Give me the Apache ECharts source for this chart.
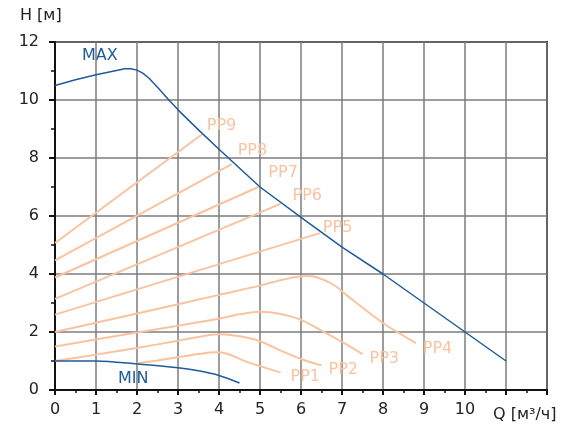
<!DOCTYPE html>
<html><head><meta charset="utf-8">
<script src="https://cdn.jsdelivr.net/npm/echarts@6/dist/echarts.min.js"></script>
<style>html,body{margin:0;padding:0;background:#fff}#c{width:583px;height:428px}</style>
</head><body><div id="c"></div>
<script>
const xTicks = [0,1,2,3,4,5,6,7,8,9,10];
const yTicks = [0,2,4,6,8,10,12];
const MAX = [[0,10.5],[0.5,10.7],[1,10.87],[1.5,11.02],[1.7,11.08],[1.85,11.08],[2.0,11.03],[2.15,10.92],[2.3,10.74],[2.5,10.44],[2.75,10.04],[3,9.66],[3.5,8.97],[4,8.3],[5,7.0],[6,5.95],[7,4.93],[8,4.0],[11,1.0]];
const MIN = [[0,1.0],[1,1.0],[2,0.9],[3,0.77],[3.5,0.66],[4,0.5],[4.5,0.24]];
const PP9 = [[0,5.07],[3.58,8.81]];
const PP8 = [[0,4.47],[4.31,7.79]];
const PP7 = [[0,3.88],[4.96,7.0]];
const PP6 = [[0,3.14],[5.5,6.42]];
const PP5 = [[0,2.6],[6.46,5.41]];
const PP4 = [[0,2.0],[2,2.64],[4,3.28],[5,3.6],[5.6,3.82],[6.1,3.93],[6.4,3.88],[6.8,3.62],[7.2,3.17],[8,2.31],[8.8,1.62]];
const PP3 = [[0,1.5],[2,1.98],[4,2.46],[4.5,2.61],[5,2.7],[5.5,2.62],[6,2.42],[6.5,2.05],[7,1.66],[7.5,1.24]];
const PP2 = [[0,1.0],[1,1.22],[2,1.45],[3,1.7],[3.5,1.83],[4,1.92],[4.5,1.85],[5,1.68],[5.5,1.36],[6,1.07],[6.5,0.85]];
const PP1 = [[2,0.92],[2.5,1.02],[3,1.13],[3.5,1.24],[3.9,1.3],[4.2,1.25],[4.7,0.96],[5.1,0.78],[5.5,0.6]];
const ppNames = ['PP1','PP2','PP3','PP4','PP5','PP6','PP7','PP8','PP9'];
const ppData = [PP1,PP2,PP3,PP4,PP5,PP6,PP7,PP8,PP9];
const ppOffsets = [[10,4],[7,4],[7,5],[7,6],[3,-5],[12,-8],[10,-14],[6,-13],[5,-9]];

const FONT = 'DejaVu Sans';
const ORANGE = '#f9c3a0';
const BLUE = '#1f5b9c';
const chart = echarts.init(document.getElementById('c'), null, {renderer:'canvas'});
const series = [];
series.push({type:'line', data:MAX, showSymbol:false, smooth:false, lineStyle:{color:BLUE,width:1.5}, z:5, animation:false});
series.push({type:'line', data:MIN, showSymbol:false, smooth:0.3, lineStyle:{color:BLUE,width:1.5}, z:5, animation:false});
ppData.forEach((d,i)=>{
  series.push({type:'line', name:ppNames[i], data:d, showSymbol:false, smooth:0.3, lineStyle:{color:ORANGE,width:2}, z:3, animation:false,
    endLabel:{show:true, formatter:ppNames[i], color:ORANGE, fontFamily:FONT, fontSize:16, distance:0, offset:ppOffsets[i]}});
});
chart.setOption({
  animation:false,
  grid:{left:55,right:36,top:42,bottom:38,show:true,borderColor:'#222',borderWidth:2,backgroundColor:'transparent'},
  xAxis:{type:'value',min:0,max:12,interval:1,
    axisLine:{show:true,onZero:false,lineStyle:{color:'#111',width:2}},
    axisTick:{show:true,length:5,lineStyle:{color:'#111',width:2}},
    minorTick:{show:true,splitNumber:2,length:3,lineStyle:{color:'#111',width:1.5}},
    splitLine:{show:true,lineStyle:{color:'#7d7d7d',width:1.5}},
    axisLabel:{margin:12,color:'#222',fontFamily:FONT,fontSize:16,formatter:v=>xTicks.includes(v)?String(v):''}},
  yAxis:{type:'value',min:0,max:12,interval:2,
    axisLine:{show:true,onZero:false,lineStyle:{color:'#111',width:2}},
    axisTick:{show:true,length:6,lineStyle:{color:'#111',width:2}},
    minorTick:{show:true,splitNumber:2,length:4,lineStyle:{color:'#111',width:1.5}},
    splitLine:{show:true,lineStyle:{color:'#7d7d7d',width:1.5}},
    axisLabel:{margin:16,color:'#222',fontFamily:FONT,fontSize:16,formatter:v=>yTicks.includes(v)?String(v):''}},
  graphic:[
    {type:'text',left:20,top:8,style:{text:'H [м]',fill:'#222',font:'16px "DejaVu Sans"'}},
    {type:'text',left:493,top:407,style:{text:'Q [м³/ч]',fill:'#222',font:'16px "DejaVu Sans"'}},
    {type:'text',left:82,top:48,style:{text:'MAX',fill:BLUE,font:'16px "DejaVu Sans"'}},
    {type:'text',left:118,top:371,style:{text:'MIN',fill:BLUE,font:'16px "DejaVu Sans"'}}
  ],
  series:series
});
</script></body></html>
